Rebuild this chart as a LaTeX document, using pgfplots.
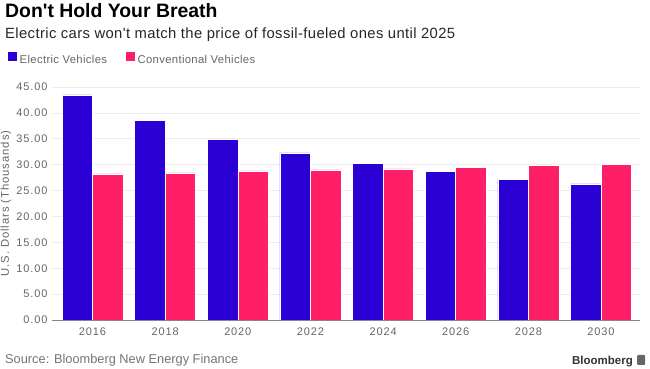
\documentclass[border=0pt]{standalone}
\usepackage{pgfplots}
\pgfplotsset{compat=1.18}
\usepackage{fontspec}
\setmainfont{Liberation Sans}
\newfontfamily\titlefont{Liberation Sans}
\newfontfamily\tickfont{Liberation Sans}[LetterSpace=8]
\newfontfamily\legfont{Liberation Sans}[LetterSpace=3]
\newfontfamily\subfont{Liberation Sans}[LetterSpace=2.6]
\definecolor{ev}{HTML}{2A00D4}
\definecolor{cv}{HTML}{FF1F66}
\definecolor{tickc}{HTML}{666666}
\definecolor{gridc}{HTML}{ECECEC}
\pgfplotstableread{
x ev cv
0 43.5 28.2
1 38.5 28.4
2 34.9 28.8
3 32.3 29.0
4 30.3 29.2
5 28.7 29.5
6 27.2 29.8
7 26.3 30.1
}\datatable
\begin{document}
\begin{tikzpicture}[x=1pt,y=1pt]
\useasboundingbox (0,0) rectangle (650,369);
\begin{axis}[
  at={(52pt,49pt)}, anchor=south west,
  scale only axis, width=588pt, height=233pt,
  xmin=-0.558, xmax=7.537, ymin=0, ymax=45,
  ybar, bar width=0.42,
  xtick=data, xticklabels={2016,2018,2020,2022,2024,2026,2028,2030},
  ytick={0,5,...,45},
  yticklabel style={/pgf/number format/fixed, /pgf/number format/fixed zerofill, /pgf/number format/precision=2, /pgf/number format/assume math mode=true, xshift=-1pt},
  ticklabel style={font=\tickfont\fontsize{11}{13}\selectfont, text=tickc},
  major tick length=0pt,
  axis lines*=left,
  y axis line style={draw=none},
  x axis line style={draw=tickc!80, line width=0.8pt},
  ymajorgrids, grid style={draw=gridc, line width=0.6pt},
  xticklabel style={yshift=-4pt},
  ylabel={U.S. Dollars (Thousands)},
  ylabel style={font=\tickfont\fontsize{11.3}{13}\selectfont, text=tickc, at={(rel axis cs:-0.0782,0.5)}, anchor=center},
  legend style={draw=none, fill=none, at={(rel axis cs:-0.0765,1.085)}, anchor=south west,
    legend columns=2, font=\legfont\fontsize{11.3}{13}\selectfont, text=tickc, inner sep=0pt,
    /tikz/every even column/.append style={column sep=16pt}},
  legend image code/.code={\fill[#1] (0pt,-1.5pt) rectangle (10pt,8.5pt);},
  legend cell align=left,
]
\addplot[fill=ev, draw=white, line width=0.5pt, bar shift=-0.21] table[x=x, y=ev] {\datatable};
\addplot[fill=cv, draw=white, line width=0.5pt, bar shift=0.21] table[x=x, y=cv] {\datatable};
\legend{Electric Vehicles, Conventional Vehicles}
\end{axis}
\node[anchor=base west, inner sep=0, font=\titlefont\bfseries\fontsize{19.4}{21}\selectfont] at (5,351.5) {Don't Hold Your Breath};
\node[anchor=base west, inner sep=0, font=\subfont\fontsize{14.8}{16}\selectfont, text=black!85] at (5,330.5) {Electric cars won't match the price of fossil-fueled ones until 2025};
\node[anchor=base west, inner sep=0, font=\fontsize{12.8}{14}\selectfont, text=black!55] at (5,5) {Source: Bloomberg New Energy Finance};
\node[anchor=base east, inner sep=0, font=\bfseries\fontsize{11.5}{13}\selectfont, text=black!80] at (633,4.5) {Bloomberg};
\fill[black!60, rounded corners=1pt] (637,4) rectangle (645,14);
\end{tikzpicture}
\end{document}
